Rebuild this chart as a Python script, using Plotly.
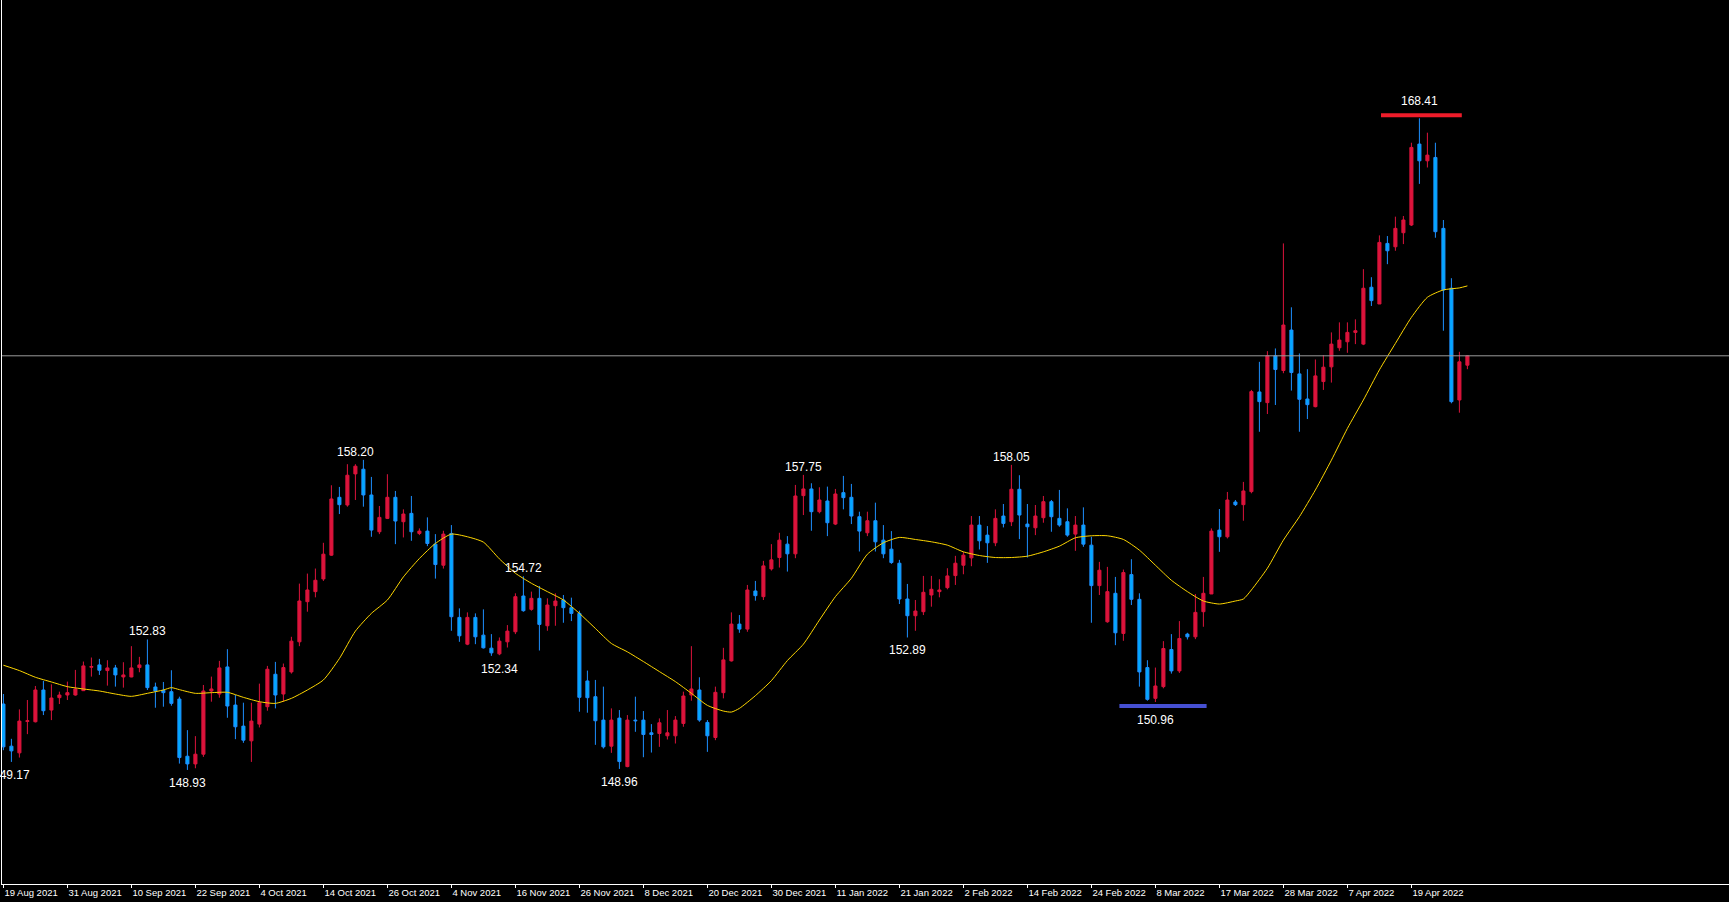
import plotly.graph_objects as go

# ---------------- data ----------------
opens = [150.90, 149.64, 149.44, 150.38, 150.37, 151.32, 150.72, 151.09, 151.17, 151.17,
         151.30, 152.00, 152.07, 151.90, 151.98, 151.71, 151.71, 151.99, 152.07, 151.41,
         151.31, 151.27, 151.05, 149.34, 149.11, 149.40, 151.29, 151.20, 152.01, 150.87,
         150.24, 149.80, 150.30, 150.82, 151.79, 151.20, 151.86, 152.76, 153.96, 154.26,
         154.64, 155.35, 157.08, 156.85, 157.78, 157.92, 157.15, 156.05, 156.45, 157.08,
         156.35, 156.60, 156.00, 156.07, 155.68, 155.05, 156.00, 153.49, 152.69, 153.49,
         152.96, 152.57, 152.40, 152.76, 153.06, 154.13, 153.73, 154.06, 153.24, 153.84,
         154.01, 153.78, 153.61, 151.59, 151.12, 150.42, 149.64, 150.48, 149.03, 150.42,
         150.42, 150.04, 150.02, 149.95, 149.95, 150.32, 151.17, 151.32, 150.35, 149.90,
         151.24, 152.19, 153.29, 153.14, 154.28, 154.11, 154.94, 155.28, 155.68, 155.39,
         157.13, 157.33, 156.65, 156.97, 156.28, 157.22, 157.08, 156.50, 156.02, 156.38,
         155.80, 155.53, 155.11, 154.04, 153.54, 153.66, 154.16, 154.26, 154.38, 154.74,
         155.05, 155.27, 156.25, 155.95, 155.72, 156.52, 156.35, 157.32, 156.28, 156.17,
         156.47, 156.95, 156.45, 156.35, 155.98, 156.25, 155.65, 154.44, 153.36, 154.21,
         153.01, 154.77, 154.03, 151.99, 151.07, 151.42, 152.53, 151.89, 152.99, 152.91,
         153.66, 154.19, 156.10, 155.90, 156.94, 156.86, 157.25, 160.23, 159.91, 161.31,
         160.87, 162.08, 160.77, 160.02, 159.79, 160.54, 160.98, 161.55, 161.73, 162.01,
         161.66, 163.36, 162.86, 164.67, 164.57, 164.99, 165.22, 167.64, 167.14, 167.24,
         165.12, 163.33, 159.99, 161.03]
highs = [151.20, 149.86, 150.74, 151.02, 151.44, 151.59, 151.49, 151.27, 151.57, 151.92,
         152.17, 152.29, 152.25, 152.21, 152.07, 152.15, 152.63, 152.31, 152.83, 151.54,
         151.56, 151.91, 151.12, 150.12, 149.94, 151.47, 151.72, 152.19, 152.54, 151.17,
         150.94, 150.94, 151.51, 152.04, 152.16, 152.11, 152.91, 154.50, 154.80, 154.95,
         155.72, 157.44, 157.39, 158.07, 158.07, 158.20, 157.69, 156.82, 157.77, 157.27,
         156.72, 157.12, 156.15, 156.48, 155.98, 156.08, 156.25, 153.76, 153.64, 153.61,
         153.73, 152.99, 152.89, 153.26, 154.21, 154.72, 154.26, 154.43, 154.06, 154.21,
         154.16, 154.08, 153.69, 151.90, 151.62, 151.42, 150.77, 150.72, 150.57, 151.12,
         150.69, 150.30, 150.47, 150.72, 150.54, 151.27, 152.63, 151.70, 150.42, 151.42,
         152.58, 153.64, 153.56, 154.46, 154.58, 155.18, 155.68, 156.02, 155.92, 157.45,
         157.75, 157.50, 157.38, 157.40, 157.33, 157.72, 157.48, 156.65, 156.65, 156.92,
         156.25, 156.07, 155.21, 154.49, 154.01, 154.73, 154.73, 154.63, 154.96, 155.33,
         155.45, 156.52, 156.52, 156.22, 156.72, 156.88, 158.05, 157.74, 156.88, 156.85,
         157.12, 157.00, 157.30, 156.75, 156.52, 156.78, 155.90, 155.15, 155.00, 154.70,
         154.92, 155.23, 154.21, 152.21, 151.99, 152.78, 152.99, 153.38, 153.03, 154.19,
         154.70, 156.15, 156.73, 157.24, 157.00, 157.54, 160.29, 161.13, 161.45, 161.53,
         164.67, 162.76, 161.38, 160.91, 161.20, 161.33, 162.01, 162.31, 162.31, 162.40,
         163.90, 163.66, 164.91, 164.89, 165.47, 165.49, 167.68, 168.41, 167.98, 167.68,
         165.37, 163.63, 161.43, 161.33]
lows = [149.52, 149.17, 149.30, 150.00, 150.35, 150.57, 150.42, 150.90, 151.02, 151.15,
        151.29, 151.72, 151.77, 151.45, 151.42, 151.39, 151.70, 151.85, 151.32, 150.79,
        150.82, 150.85, 149.12, 148.93, 148.98, 149.32, 150.97, 151.09, 150.49, 149.85,
        149.74, 149.17, 150.20, 150.70, 150.77, 150.97, 151.81, 152.63, 153.66, 154.09,
        154.58, 155.33, 156.58, 156.80, 157.00, 156.80, 155.90, 155.98, 156.43, 155.68,
        155.88, 155.78, 155.95, 155.62, 154.65, 154.95, 153.09, 152.76, 152.66, 152.69,
        152.56, 152.34, 152.36, 152.59, 152.99, 153.66, 153.69, 152.50, 153.09, 153.24,
        153.33, 153.38, 150.67, 150.64, 149.68, 149.57, 149.44, 148.96, 149.01, 150.07,
        149.31, 149.45, 149.62, 149.84, 149.72, 150.22, 151.00, 150.37, 149.47, 149.82,
        151.07, 152.17, 153.03, 153.06, 153.99, 154.01, 154.89, 154.98, 154.86, 155.26,
        156.55, 156.08, 156.60, 155.92, 156.25, 156.72, 156.28, 155.46, 155.92, 155.46,
        155.26, 155.09, 153.89, 152.89, 153.09, 153.56, 153.81, 154.09, 154.33, 154.46,
        154.78, 155.02, 155.52, 155.12, 155.62, 156.18, 156.22, 155.83, 155.28, 155.95,
        156.32, 156.05, 156.20, 155.90, 155.48, 155.60, 153.33, 154.16, 153.33, 152.66,
        152.79, 153.86, 151.42, 151.00, 150.96, 151.37, 151.81, 151.83, 152.83, 152.84,
        153.21, 154.19, 155.45, 155.85, 156.82, 156.38, 157.20, 159.04, 159.57, 159.84,
        160.79, 160.27, 159.04, 159.42, 159.77, 160.29, 160.51, 161.46, 161.40, 161.66,
        161.63, 162.80, 162.86, 164.05, 164.45, 164.65, 165.19, 166.45, 166.94, 164.84,
        162.06, 159.89, 159.61, 160.91]
closes = [149.62, 149.50, 150.39, 150.40, 151.32, 150.70, 151.08, 151.17, 151.24, 151.35,
          152.04, 152.02, 151.91, 151.98, 151.77, 151.77, 151.98, 152.07, 151.39, 151.29,
          151.24, 150.92, 149.30, 149.11, 149.40, 151.29, 151.35, 151.98, 150.84, 150.22,
          149.82, 150.39, 150.94, 151.94, 151.17, 151.99, 152.78, 153.98, 154.31, 154.60,
          155.38, 157.03, 156.86, 157.74, 158.01, 157.15, 156.10, 156.48, 157.08, 156.37,
          156.58, 156.05, 156.07, 155.70, 155.07, 155.98, 153.51, 152.94, 153.49, 152.91,
          152.58, 152.43, 152.78, 153.08, 154.11, 153.69, 154.06, 153.28, 153.86, 153.98,
          153.78, 153.61, 151.10, 151.09, 150.40, 149.62, 150.42, 149.18, 150.42, 150.40,
          149.99, 149.99, 150.34, 150.04, 150.42, 151.14, 151.35, 150.42, 149.95, 151.25,
          152.22, 153.29, 153.14, 154.31, 154.14, 155.03, 155.21, 155.80, 155.39, 157.12,
          157.33, 156.65, 157.00, 156.32, 157.18, 157.07, 156.52, 156.07, 156.38, 155.75,
          155.39, 155.13, 154.04, 153.54, 153.68, 154.24, 154.33, 154.31, 154.73, 155.11,
          155.35, 156.25, 155.78, 155.72, 156.45, 156.30, 157.32, 156.55, 156.20, 156.52,
          156.95, 156.50, 156.25, 155.95, 156.25, 155.68, 154.44, 154.90, 154.26, 153.03,
          154.83, 154.03, 151.86, 151.04, 151.44, 152.56, 151.89, 152.86, 152.91, 153.64,
          154.21, 156.07, 155.90, 157.00, 156.86, 157.27, 160.24, 159.94, 161.31, 160.90,
          162.23, 160.81, 160.01, 159.85, 160.71, 160.97, 161.66, 161.78, 162.01, 162.06,
          163.33, 162.96, 164.70, 164.45, 165.12, 165.37, 167.54, 167.14, 167.31, 165.02,
          163.28, 159.94, 161.13, 161.31]

# 20-period moving average at these bars
ma_bars = [0, 2, 4, 6, 8, 10, 12, 14, 16, 18, 20, 21, 22, 24, 26, 28, 30, 32, 34, 36,
           38, 40, 42, 44, 46, 48, 50, 52, 54, 56, 58, 60, 62, 64, 66, 68, 70, 72, 74, 76,
           78, 80, 82, 84, 86, 88, 90, 91, 92, 94, 96, 98, 100, 102, 104, 106, 108, 110, 112,
           114, 116, 118, 120, 122, 124, 126, 128, 130, 132, 134, 136, 138, 140, 142, 144,
           146, 148, 150, 152, 154, 155, 156, 158, 160, 162, 164, 166, 168, 170, 172, 174,
           176, 178, 180, 182, 183]
ma_values = [152.06, 151.90, 151.70, 151.56, 151.42, 151.35, 151.29, 151.20, 151.13, 151.22,
             151.32, 151.39, 151.33, 151.22, 151.24, 151.25, 151.10, 150.97, 150.92, 151.07,
             151.32, 151.62, 152.26, 153.08, 153.61, 154.01, 154.70, 155.25, 155.70, 155.98,
             155.90, 155.74, 155.24, 154.81, 154.51, 154.26, 154.01, 153.61, 153.16, 152.71,
             152.46, 152.17, 151.87, 151.57, 151.22, 150.86, 150.69, 150.66, 150.77, 151.15,
             151.60, 152.20, 152.69, 153.41, 154.11, 154.66, 155.38, 155.72, 155.88, 155.82,
             155.75, 155.65, 155.45, 155.34, 155.28, 155.28, 155.32, 155.45, 155.62, 155.87,
             155.93, 155.93, 155.82, 155.50, 155.05, 154.60, 154.26, 153.98, 153.89, 153.98,
             154.04, 154.31, 154.96, 155.80, 156.50, 157.30, 158.19, 159.14, 159.99, 160.89,
             161.68, 162.46, 163.06, 163.28, 163.34, 163.40]

tick_labels = ["19 Aug 2021", "31 Aug 2021", "10 Sep 2021", "22 Sep 2021", "4 Oct 2021",
               "14 Oct 2021", "26 Oct 2021", "4 Nov 2021", "16 Nov 2021", "26 Nov 2021",
               "8 Dec 2021", "20 Dec 2021", "30 Dec 2021", "11 Jan 2022", "21 Jan 2022",
               "2 Feb 2022", "14 Feb 2022", "24 Feb 2022", "8 Mar 2022", "17 Mar 2022",
               "28 Mar 2022", "7 Apr 2022", "19 Apr 2022"]
tick_every = 8

# swing labels: bar index, price, side
swing_bars = [1, 18, 23, 44, 62, 65, 77, 100, 113, 126]
swing_prices = [149.17, 152.83, 148.93, 158.20, 152.34, 154.72, 148.96, 157.75, 152.89, 158.05]
swing_sides = ["below", "above", "below", "above", "below", "above", "below", "above", "below", "above"]

# highlighted extremes: level, first bar, last bar
top_level, top_from, top_to = 168.41, 172.2, 182.3
bottom_level, bottom_from, bottom_to = 150.96, 139.5, 150.4

# ---------------- figure ----------------
n = len(closes)
xs = list(range(n))

UP = "#DC143C"
DOWN_LINE = "#1E90FF"
DOWN_FILL = "#00AAFF"

fig = go.Figure()
fig.add_trace(go.Candlestick(
    x=xs, open=opens, high=highs, low=lows, close=closes,
    increasing=dict(line=dict(color=UP, width=1), fillcolor=UP),
    decreasing=dict(line=dict(color=DOWN_LINE, width=1), fillcolor=DOWN_FILL),
    whiskerwidth=0, hoverinfo="skip", showlegend=False,
))
fig.add_trace(go.Scatter(
    x=ma_bars, y=ma_values, mode="lines",
    line=dict(color="#FFD700", width=1, shape="spline", smoothing=0.6),
    hoverinfo="skip", showlegend=False,
))

# current price line
fig.add_shape(type="line", xref="paper", x0=0, x1=1, yref="y",
              y0=closes[-1], y1=closes[-1], line=dict(color="#9a9a9a", width=1))

# extreme markers
fig.add_shape(type="rect", xref="x", x0=top_from, x1=top_to, yref="y",
              ysizemode="pixel", yanchor=top_level, y0=1, y1=5,
              fillcolor="#EE1C2A", line=dict(width=0))
fig.add_shape(type="rect", xref="x", x0=bottom_from, x1=bottom_to, yref="y",
              ysizemode="pixel", yanchor=bottom_level, y0=-6, y1=-2,
              fillcolor="#4650D2", line=dict(width=0))

label_font = dict(family="Liberation Sans, Arial, sans-serif", size=12, color="#FFFFFF")
for b, p, s in zip(swing_bars, swing_prices, swing_sides):
    fig.add_annotation(x=b, y=p, xref="x", yref="y", text=f"{p:.2f}", showarrow=False,
                       font=label_font, xanchor="center",
                       yanchor="bottom" if s == "above" else "top",
                       yshift=-1 if s == "above" else -4)
fig.add_annotation(x=highs.index(top_level), y=top_level, text=f"{top_level:.2f}",
                   showarrow=False, font=label_font, yanchor="bottom", yshift=8)
fig.add_annotation(x=lows.index(bottom_level), y=bottom_level, text=f"{bottom_level:.2f}",
                   showarrow=False, font=label_font, yanchor="top", yshift=-9)

fig.update_layout(
    width=1729, height=902, autosize=False,
    margin=dict(l=2, r=0, t=0, b=18, pad=0),
    paper_bgcolor="#000000", plot_bgcolor="#000000",
    boxgap=0.45,
    xaxis=dict(
        range=[-0.175, 215.7], showgrid=False, zeroline=False,
        rangeslider=dict(visible=False),
        tickmode="array",
        tickvals=[i * tick_every for i in range(len(tick_labels))],
        ticktext=tick_labels,
        tickangle=0, automargin=False,
        ticks="outside", ticklen=3, tickcolor="#FFFFFF", tickwidth=1,
        ticklabelposition="outside right",
        tickfont=dict(family="Liberation Sans, Arial, sans-serif", size=9.5, color="#FFFFFF"),
        showline=True, linecolor="#FFFFFF", linewidth=1,
    ),
    yaxis=dict(
        range=[145.52, 171.947], showgrid=False, zeroline=False,
        showticklabels=False, ticks="", automargin=False,
        showline=True, linecolor="#FFFFFF", linewidth=1,
    ),
)

fig.write_html("out.html", config={"displayModeBar": False},
               post_script="document.body.style.margin='0';document.body.style.overflow='hidden';")
